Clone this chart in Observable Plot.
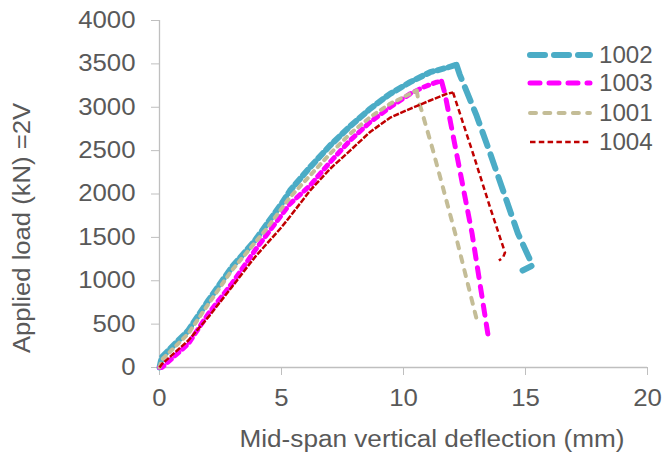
<!DOCTYPE html>
<html><head><meta charset="utf-8">
<script src="https://cdn.jsdelivr.net/npm/d3@7"></script>
<script src="https://cdn.jsdelivr.net/npm/@observablehq/plot@0.6"></script>
<style>
html,body{margin:0;padding:0;background:#fff;}
#chart{position:relative;width:664px;height:454px;}
</style></head><body><div id="chart"></div>
<script>
// Series names (legend order) and colours
const seriesNames = ["1002", "1003", "1001", "1004"];
const seriesColors = ["#4BACC6", "#FF00FF", "#C4BD97", "#C00000"];

// Mid-span deflection (mm) and applied load (kN)
const defl1002 = [0, 0.09, 1.18, 2.0, 2.96, 3.91, 5.0, 5.35, 6.17, 6.99, 7.81, 8.63, 9.45, 10.27, 11.09, 11.77, 12.17, 12.3, 13.0, 13.55, 14.08, 14.69, 15.29, 14.88];
const load1002 = [0, 119, 427, 772, 1156, 1464, 1887, 2040, 2309, 2559, 2780, 2982, 3155, 3289, 3404, 3455, 3490, 3380, 2900, 2470, 2040, 1545, 1176, 1118];

const defl1003 = [0, 0.1, 1.18, 2.0, 2.96, 3.91, 5.35, 6.17, 6.99, 7.81, 8.63, 9.45, 10.27, 10.81, 11.36, 11.56, 11.7, 12.23, 12.81, 13.48];
const load1003 = [0, 0, 273, 619, 965, 1349, 1887, 2098, 2367, 2617, 2828, 3001, 3155, 3231, 3289, 3300, 3155, 2386, 1545, 346];

const defl1001 = [0, 0.1, 1.18, 2.0, 2.96, 4.39, 5.35, 6.17, 6.99, 7.81, 8.63, 9.45, 10.27, 10.54, 10.61, 10.74, 11.21, 12.12, 13.01];
const load1001 = [0, 90, 390, 730, 1118, 1599, 1963, 2213, 2463, 2694, 2885, 3040, 3155, 3193, 3078, 2963, 2501, 1545, 542];

const defl1004 = [0, 0.1, 1.18, 2.0, 2.96, 3.91, 5.0, 5.35, 6.17, 6.99, 7.81, 8.63, 9.45, 10.27, 11.09, 11.77, 12.03, 12.85, 13.55, 14.16, 14.08, 13.91];
const load1004 = [0, 40, 311, 580, 926, 1272, 1617, 1740, 2040, 2290, 2500, 2715, 2880, 2982, 3078, 3155, 3170, 2467, 1844, 1326, 1268, 1233];

const xTicks = [0, 5, 10, 15, 20];
const yTicks = [0, 500, 1000, 1500, 2000, 2500, 3000, 3500, 4000];

const xLabel = "Mid-span vertical deflection (mm)";
const yLabel = "Applied load (kN) =2V";

// line styles per series (legend order); the loading branch is drawn with a
// denser pattern, as the noisy test record makes it look in the original
const styles = [
  {w: 6, dash: "15,9", rise: "7,4.5", cap: "round"},
  {w: 5, dash: "10,9", rise: "5,5", cap: "round"},
  {w: 4, dash: "6,8.3", rise: "4,5.5", cap: "round"},
  {w: 2.5, dash: "5.5,3.3", rise: "6,1.5", cap: "butt"}
];

const seriesData = [
  [defl1002, load1002],
  [defl1003, load1003],
  [defl1001, load1001],
  [defl1004, load1004]
].map(([d, v], i) => d.map((x, j) => ({series: seriesNames[i], d: x, v: v[j]})));

const axisGray = "#BFBFBF";
const textGray = "#595959";

const lineMarks = [];
seriesData.forEach((data, i) => {
  const peak = d3.maxIndex(data, r => r.v);
  const common = {
    x: "d", y: "v",
    stroke: seriesColors[i],
    strokeWidth: styles[i].w,
    strokeLinecap: styles[i].cap,
    strokeLinejoin: "round"
  };
  lineMarks.push(Plot.line(data.slice(0, peak + 1), {...common, strokeDasharray: styles[i].rise}));
  lineMarks.push(Plot.line(data.slice(peak), {...common, strokeDasharray: styles[i].dash}));
});

const plot = Plot.plot({
  width: 664,
  height: 454,
  marginLeft: 159,
  marginRight: 17,
  marginTop: 20,
  marginBottom: 87,
  style: {fontFamily: "'Liberation Sans', Arial, sans-serif", fontSize: "23px", color: textGray, background: "#fff"},
  x: {domain: [0, 20]},
  y: {domain: [0, 4000]},
  marks: [
    Plot.ruleX([0], {stroke: axisGray, strokeWidth: 1.3}),
    Plot.ruleY([0], {stroke: axisGray, strokeWidth: 1.3}),
    Plot.axisX({ticks: xTicks, tickSize: 8, tickPadding: 14, label: null, stroke: axisGray, fill: textGray, tickFormat: d => String(d)}),
    Plot.axisY({ticks: yTicks, tickSize: 8, tickPadding: 16, label: null, stroke: axisGray, fill: textGray, tickFormat: d => String(d)}),
    ...lineMarks
  ]
});

document.getElementById("chart").appendChild(plot);

const svg = d3.select(plot);

// widen tick labels a little to match the wide glyphs of the original
svg.selectAll("text").each(function() {
  const len = this.getComputedTextLength();
  if (len > 0) {
    this.setAttribute("textLength", (len * 1.12).toFixed(1));
    this.setAttribute("lengthAdjust", "spacingAndGlyphs");
  }
});

// axis titles
svg.append("text")
  .attr("x", 432).attr("y", 447)
  .attr("text-anchor", "middle")
  .attr("fill", textGray)
  .attr("font-size", 23)
  .attr("textLength", 385).attr("lengthAdjust", "spacingAndGlyphs")
  .text(xLabel);

svg.append("text")
  .attr("transform", "translate(30,228) rotate(-90)")
  .attr("text-anchor", "middle")
  .attr("fill", textGray)
  .attr("font-size", 23)
  .attr("textLength", 250).attr("lengthAdjust", "spacingAndGlyphs")
  .text(yLabel);

// legend
const legendRows = [55, 83, 113, 142];
const lg = svg.append("g");
seriesNames.forEach((name, i) => {
  const yy = legendRows[i];
  lg.append("line")
    .attr("x1", 530).attr("x2", 590).attr("y1", yy).attr("y2", yy)
    .attr("stroke", seriesColors[i])
    .attr("stroke-width", styles[i].w)
    .attr("stroke-dasharray", styles[i].dash)
    .attr("stroke-linecap", styles[i].cap);
  const t = lg.append("text")
    .attr("x", 599).attr("y", yy).attr("dy", "0.35em")
    .attr("text-anchor", "start")
    .attr("fill", textGray).attr("font-size", 23)
    .text(name);
  const len = t.node().getComputedTextLength();
  t.attr("textLength", (len * 1.05).toFixed(1)).attr("lengthAdjust", "spacingAndGlyphs");
});
</script>
</body></html>
